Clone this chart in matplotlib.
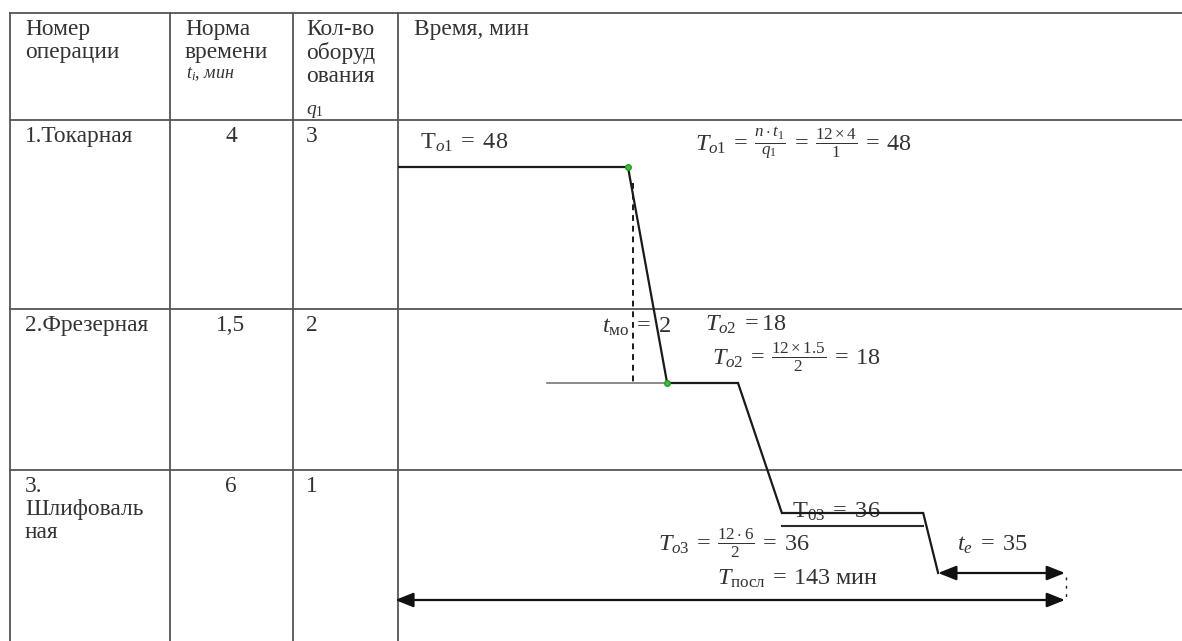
import numpy as np
import matplotlib.pyplot as plt

plt.rcParams['font.family'] = ['Liberation Serif', 'DejaVu Serif']
plt.rcParams['mathtext.fontset'] = 'custom'
plt.rcParams['mathtext.rm'] = 'Liberation Serif'
plt.rcParams['mathtext.it'] = 'Liberation Serif:italic'
plt.rcParams['mathtext.bf'] = 'Liberation Serif:bold'

# table contents
header = ['Номер\nоперации', 'Норма\nвремени', 'Кол-во\nоборуд\nования', 'Время, мин']
operations = ['1.Токарная', '2.Фрезерная', '3.\nШлифоваль\nная']
norm_time = ['4', '1,5', '6']
equipment = ['3', '2', '1']

# schedule: time in minutes, level = row of the diagram
sched_t = [0, 49.3, 57.7, 72.9, 82.3, 112.6, 115.8]
sched_lvl = [167, 167, 383, 383, 513, 513, 573]
dots_t = [49.3, 57.7]
dots_lvl = [167, 383]
op2_gray_t = [31.9, 57.7]          # thin line in front of operation 2
op3_second_t = [82.3, 112.6]       # second line of operation 3
t_mo = 50.4                        # dashed mark t_мо
t_end = 143.0                      # T_посл
t_e_start = 115.8

TXT = '#333333'
TFS = 16.8
LS = 1.12

fig = plt.figure(figsize=(11.82, 6.41), dpi=100)
ax = fig.add_axes([0, 0, 1, 1])
ax.set_xlim(0, 1182)
ax.set_ylim(641, 0)
ax.axis('off')

# table grid
col_x = [10, 170, 293, 398]
row_y = [13, 120, 309, 470]
for x in col_x:
    ax.plot([x, x], [row_y[0], 641], color='#555555', lw=1.3)
for y in row_y:
    ax.plot([col_x[0], 1182], [y, y], color='#555555', lw=1.3)

# header
ax.text(25, 19, header[0], fontsize=TFS, color=TXT, va='top', linespacing=LS)
ax.text(185, 19, header[1], fontsize=TFS, color=TXT, va='top', linespacing=LS)
ax.text(186, 74, r'$t_i$, $мин$', fontsize=13, color=TXT, va='center')
ax.text(306, 19, header[2], fontsize=TFS, color=TXT, va='top', linespacing=LS)
ax.text(306, 111, r'$q_1$', fontsize=14, color=TXT, va='center')
ax.text(414, 19, header[3], fontsize=TFS, color=TXT, va='top')

# rows
for i in range(3):
    y0 = row_y[i + 1] + 6
    ax.text(25, y0, operations[i], fontsize=TFS, color=TXT, va='top', linespacing=LS)
    ax.text(231, y0, norm_time[i], fontsize=TFS, color=TXT, va='top', ha='center')
    ax.text(306, y0, equipment[i], fontsize=TFS, color=TXT, va='top')

# diagram in minutes
px_per_min = 667 / t_end
ax2 = fig.add_axes([398 / 1182, 0, 784 / 1182, (641 - 120) / 641])
ax2.set_xlim(0, 784 / px_per_min)
ax2.set_ylim(641, 120)
ax2.axis('off')

ax2.plot(sched_t, sched_lvl, color='#1a1a1a', lw=1.6, solid_joinstyle='miter')
ax2.plot(op2_gray_t, [sched_lvl[2]] * 2, color='#777777', lw=1.2, zorder=1)
ax2.plot(op3_second_t, [526] * 2, color='#2a2a2a', lw=1.5)
ax2.plot([t_mo, t_mo], [183, 383], color='#1a1a1a', lw=1.4, ls=(0, (3, 2.5)))
ax2.plot([t_end + 0.3, t_end + 0.3], [577, 597], color='#1a1a1a', lw=1.0, ls=(0, (2, 4)))
ax2.scatter(dots_t, dots_lvl, s=16, facecolor='#3fbf3f', edgecolor='#1f9f1f', zorder=5)

arrow_kw = dict(arrowstyle='<|-|>,head_length=0.55,head_width=0.22', color='#111111',
                lw=1.6, mutation_scale=20, shrinkA=0, shrinkB=0)
ax2.annotate('', xy=(t_end, 573), xytext=(t_e_start, 573), arrowprops=arrow_kw)
ax2.annotate('', xy=(t_end, 600), xytext=(-0.6, 600), arrowprops=arrow_kw)

# labels
FS = 17.5
ax.text(420, 143, r'$\mathrm{T}_{o1}\;=\;48$', fontsize=FS, color=TXT, va='center')
ax.text(695, 143, r'$T_{o1}\:=\:\frac{n\cdot t_1}{q_1}\:=\:\frac{12\times4}{1}\:=\:\mathrm{48}$',
        fontsize=FS, color=TXT, va='center')
ax.text(602, 327, r'$t_{\mathrm{мо}}\;=\;2$', fontsize=FS, color=TXT, va='center')
ax.text(705, 325, r'$T_{o2}\;=18$', fontsize=FS, color=TXT, va='center')
ax.text(712, 357, r'$T_{o2}\:=\:\frac{12\times1.5}{2}\:=\:18$', fontsize=FS, color=TXT, va='center')
ax.text(792, 512, r'$\mathrm{T}_{03}\;=\;36$', fontsize=FS, color=TXT, va='center', zorder=0)
ax.text(658, 543, r'$T_{o3}\:=\:\frac{12\cdot6}{2}\:=\:36$', fontsize=FS, color=TXT, va='center')
ax.text(717, 579, r'$T_{\mathrm{посл}}\:=\:\mathrm{143\ мин}$', fontsize=FS, color=TXT, va='center')
ax.text(957, 545, r'$t_e\;=\;35$', fontsize=FS, color=TXT, va='center')

fig.savefig('out.png', dpi=100)
